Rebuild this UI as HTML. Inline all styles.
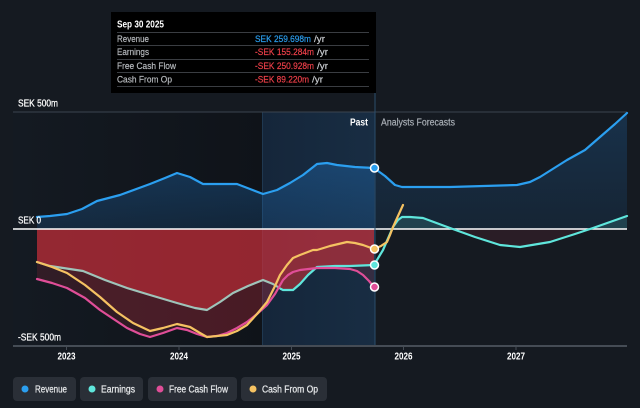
<!DOCTYPE html>
<html><head><meta charset="utf-8"><style>
html,body{margin:0;padding:0;background:#151a21;}
svg{display:block;font-family:"Liberation Sans",sans-serif;}
</style></head><body>
<svg width="640" height="408" viewBox="0 0 640 408" xmlns="http://www.w3.org/2000/svg">
<defs>
<linearGradient id="pastbg" x1="0" x2="1" y1="0" y2="0">
<stop offset="0" stop-color="#141a22"/><stop offset="1" stop-color="#0f1319"/>
</linearGradient>
<linearGradient id="hlbg" x1="0" x2="1" y1="0" y2="0">
<stop offset="0" stop-color="#15263a"/><stop offset="1" stop-color="#182d43"/>
</linearGradient>
<linearGradient id="revfill" x1="0" x2="0" y1="0" y2="1">
<stop offset="0" stop-color="#2182dc" stop-opacity="0.30"/><stop offset="1" stop-color="#2182dc" stop-opacity="0.16"/>
</linearGradient>
<linearGradient id="revfill2" x1="0" x2="0" y1="0" y2="1">
<stop offset="0" stop-color="#2182dc" stop-opacity="0.22"/><stop offset="1" stop-color="#2182dc" stop-opacity="0.10"/>
</linearGradient>
<clipPath id="above"><rect x="0" y="0" width="640" height="229"/></clipPath>
<clipPath id="below"><rect x="0" y="229" width="640" height="200"/></clipPath>
</defs>

<rect x="13" y="112" width="249" height="234" fill="url(#pastbg)"/>
<rect x="262" y="112" width="113" height="234" fill="url(#hlbg)"/>
<line x1="262.5" y1="112" x2="262.5" y2="346" stroke="#1f3850" stroke-width="1"/>

<polygon fill="url(#revfill)" points="37,229 37,217 50,216 67,214 82,209 97,201 120,195 150,184 165,178 177,173 190,177 203,184 237,184 250,189 263,194 277,190 290,183 303,175 317,164 327,163 337,165 355,167 374,168 374,229"/>
<polygon fill="url(#revfill2)" points="374,229 374,168 385,176 395,185 402,187 450,187 517,185 530,182 540,177 567,160 585,150 600,137 615,124 627,113 627,229"/>

<g clip-path="url(#above)">
<polygon fill="#5adcd2" fill-opacity="0.16" points="374,229 374,265 383,250 393,227 398,220 402,217 410,217 423,218 450,228 475,237 500,245 520,247 550,242 575,234 593,228 610,222 627,216 627,229"/>
</g>
<g clip-path="url(#below)">
<polygon fill="#c83c46" fill-opacity="0.12" points="393,229 398,220 402,217 410,217 423,218 450,228 475,237 500,245 520,247 550,242 575,234 593,228 610,222 627,216 627,229"/>
</g>

<polygon fill="#d73237" fill-opacity="0.55" points="37,229 37,262 50,266 83,271 105,280 127,288 150,295 177,303 195,308 207,310 220,302 233,293 248,286 263,280 273,284 283,290 293,290 300,284 308,275 317,267 335,266 350,266 374,265 374,229"/>
<polygon fill="#c83241" fill-opacity="0.17" points="37,229 37,279 52,283 67,288 85,298 100,310 115,320 127,328 140,334 150,337 163,333 177,328 187,330 197,334 207,337 217,336 227,333 237,328 247,322 257,314 267,305 275,294 283,280 288,275 293,272 300,270 317,268 335,268 350,269 357,271 363,275 369,281 374,287 374,229"/>
<polygon fill="#c83241" fill-opacity="0.17" points="37,229 37,262 52,267 67,273 85,285 100,297 117,312 133,323 150,331 163,328 177,324 190,327 200,333 207,337 217,336 227,335 237,331 247,325 257,314 267,302 275,286 280,275 287,265 293,258 300,255 313,250 317,250 330,246 347,242 355,243 363,245 374,249 374,229"/>

<line x1="13" y1="112" x2="627" y2="112" stroke="#3b4450" stroke-width="1"/>
<line x1="13" y1="229" x2="627" y2="229" stroke="#ffffff" stroke-width="1.5"/>
<line x1="375" y1="93" x2="375" y2="346" stroke="#2a4d6c" stroke-width="1"/>
<line x1="13" y1="346" x2="627" y2="346" stroke="#454c55" stroke-width="2"/>
<g stroke="#454c55" stroke-width="1">
<line x1="66.5" y1="346" x2="66.5" y2="350"/>
<line x1="179" y1="346" x2="179" y2="350"/>
<line x1="291.5" y1="346" x2="291.5" y2="350"/>
<line x1="403.5" y1="346" x2="403.5" y2="350"/>
<line x1="516" y1="346" x2="516" y2="350"/>
</g>

<g fill="none" stroke-width="2.2" stroke-linejoin="round" stroke-linecap="round">
<polyline stroke="#9fc4ba" points="37,262 50,266 83,271 105,280 127,288 150,295 177,303 195,308 207,310 220,302 233,293 248,286 263,280 273,284 281,289"/>
<polyline stroke="#5fe6dc" points="281,289 283,290 293,290 300,284 308,275 317,267 335,266 350,266 374,265 383,250 393,227 398,220 402,217 410,217 423,218 450,228 475,237 500,245 520,247 550,242 575,234 593,228 610,222 627,216"/>
<polyline stroke="#2b9ff0" points="37,217 50,216 67,214 82,209 97,201 120,195 150,184 165,178 177,173 190,177 203,184 237,184 250,189 263,194 277,190 290,183 303,175 317,164 327,163 337,165 355,167 374,168 385,176 395,185 402,187 450,187 517,185 530,182 540,177 567,160 585,150 600,137 615,124 627,113"/>
<polyline stroke="#e04e98" points="37,279 52,283 67,288 85,298 100,310 115,320 127,328 140,334 150,337 163,333 177,328 187,330 197,334 207,337 217,336 227,333 237,328 247,322 257,314 267,305 275,294 283,280 288,275 293,272 300,270 317,268 335,268 350,269 357,271 363,275 369,281 374,287"/>
<polyline stroke="#f5c262" points="37,262 52,267 67,273 85,285 100,297 117,312 133,323 150,331 163,328 177,324 190,327 200,333 207,337 217,336 227,335 237,331 247,325 257,314 267,302 275,286 280,275 287,265 293,258 300,255 313,250 317,250 330,246 347,242 355,243 363,245 374,249 381,246 387,242 390,235 393,227 398,216 403,205"/>
</g>
<g stroke="#ffffff" stroke-width="1.5">
<circle cx="374.5" cy="168" r="4" fill="#2b9ff0"/>
<circle cx="374.5" cy="249" r="4" fill="#f5c262"/>
<circle cx="374.5" cy="265" r="4" fill="#5fe6dc"/>
<circle cx="374.5" cy="287" r="4" fill="#e04e98"/>
</g>

<g font-size="10" fill="#ffffff" stroke="#ffffff" stroke-width="0.25">
<text x="18" y="106.5" textLength="40" lengthAdjust="spacingAndGlyphs">SEK 500m</text>
<text x="18" y="223.5" textLength="23" lengthAdjust="spacingAndGlyphs">SEK 0</text>
<text x="18" y="340.5" textLength="43" lengthAdjust="spacingAndGlyphs">-SEK 500m</text>
</g>
<g font-size="10" fill="#ffffff" font-weight="bold">
<text x="57.5" y="359.5" textLength="18" lengthAdjust="spacingAndGlyphs">2023</text>
<text x="170" y="359.5" textLength="18" lengthAdjust="spacingAndGlyphs">2024</text>
<text x="282.5" y="359.5" textLength="18" lengthAdjust="spacingAndGlyphs">2025</text>
<text x="394.5" y="359.5" textLength="18" lengthAdjust="spacingAndGlyphs">2026</text>
<text x="507" y="359.5" textLength="18" lengthAdjust="spacingAndGlyphs">2027</text>
</g>
<text x="350" y="125.5" font-size="10" fill="#ffffff" font-weight="bold" textLength="18" lengthAdjust="spacingAndGlyphs">Past</text>
<text x="381" y="125.5" font-size="10" fill="#a8aeb5" stroke="#a8aeb5" stroke-width="0.2" textLength="74" lengthAdjust="spacingAndGlyphs">Analysts Forecasts</text>

<rect x="111" y="12" width="265" height="81" fill="#000000"/>
<text x="117" y="27.5" font-size="10" font-weight="bold" fill="#ffffff" textLength="47" lengthAdjust="spacingAndGlyphs">Sep 30 2025</text>
<g stroke="#3a3d42" stroke-width="1">
<line x1="117" y1="32.5" x2="369" y2="32.5"/>
<line x1="117" y1="45.5" x2="369" y2="45.5"/>
<line x1="117" y1="59.5" x2="369" y2="59.5"/>
<line x1="117" y1="72.5" x2="369" y2="72.5"/>
<line x1="117" y1="86.5" x2="369" y2="86.5"/>
</g>
<g font-size="9.5" fill="#b5b8bc" stroke="#b5b8bc" stroke-width="0.2">
<text x="117" y="41.8" textLength="32" lengthAdjust="spacingAndGlyphs">Revenue</text>
<text x="117" y="55.2" textLength="32" lengthAdjust="spacingAndGlyphs">Earnings</text>
<text x="117" y="68.8" textLength="59" lengthAdjust="spacingAndGlyphs">Free Cash Flow</text>
<text x="117" y="82.3" textLength="55" lengthAdjust="spacingAndGlyphs">Cash From Op</text>
</g>
<g font-size="9.5" stroke-width="0.2">
<text x="255" y="41.8" fill="#2b9ff0" stroke="#2b9ff0" textLength="56" lengthAdjust="spacingAndGlyphs">SEK 259.698m</text>
<text x="314" y="41.8" fill="#c8cbcf" stroke="#c8cbcf" textLength="11" lengthAdjust="spacingAndGlyphs">/yr</text>
<text x="255" y="55.2" fill="#f0404a" stroke="#f0404a" textLength="59" lengthAdjust="spacingAndGlyphs">-SEK 155.284m</text>
<text x="317" y="55.2" fill="#c8cbcf" stroke="#c8cbcf" textLength="11" lengthAdjust="spacingAndGlyphs">/yr</text>
<text x="255" y="68.8" fill="#f0404a" stroke="#f0404a" textLength="59" lengthAdjust="spacingAndGlyphs">-SEK 250.928m</text>
<text x="317" y="68.8" fill="#c8cbcf" stroke="#c8cbcf" textLength="11" lengthAdjust="spacingAndGlyphs">/yr</text>
<text x="255" y="82.3" fill="#f0404a" stroke="#f0404a" textLength="54" lengthAdjust="spacingAndGlyphs">-SEK 89.220m</text>
<text x="312" y="82.3" fill="#c8cbcf" stroke="#c8cbcf" textLength="11" lengthAdjust="spacingAndGlyphs">/yr</text>
</g>

<g fill="#2a2f37">
<rect x="13" y="377" width="63" height="24" rx="4"/>
<rect x="80" y="377" width="63" height="24" rx="4"/>
<rect x="148" y="377" width="89" height="24" rx="4"/>
<rect x="241" y="377" width="86" height="24" rx="4"/>
</g>
<circle cx="25" cy="389" r="3.5" fill="#2b9ff0"/>
<circle cx="92" cy="389" r="3.5" fill="#5fe6dc"/>
<circle cx="160" cy="389" r="3.5" fill="#e04e98"/>
<circle cx="253" cy="389" r="3.5" fill="#f5c262"/>
<g font-size="10" fill="#e6e8ea" stroke="#e6e8ea" stroke-width="0.25">
<text x="35" y="392.5" textLength="32" lengthAdjust="spacingAndGlyphs">Revenue</text>
<text x="101" y="392.5" textLength="34" lengthAdjust="spacingAndGlyphs">Earnings</text>
<text x="169" y="392.5" textLength="59" lengthAdjust="spacingAndGlyphs">Free Cash Flow</text>
<text x="262" y="392.5" textLength="56" lengthAdjust="spacingAndGlyphs">Cash From Op</text>
</g>
</svg>
</body></html>
